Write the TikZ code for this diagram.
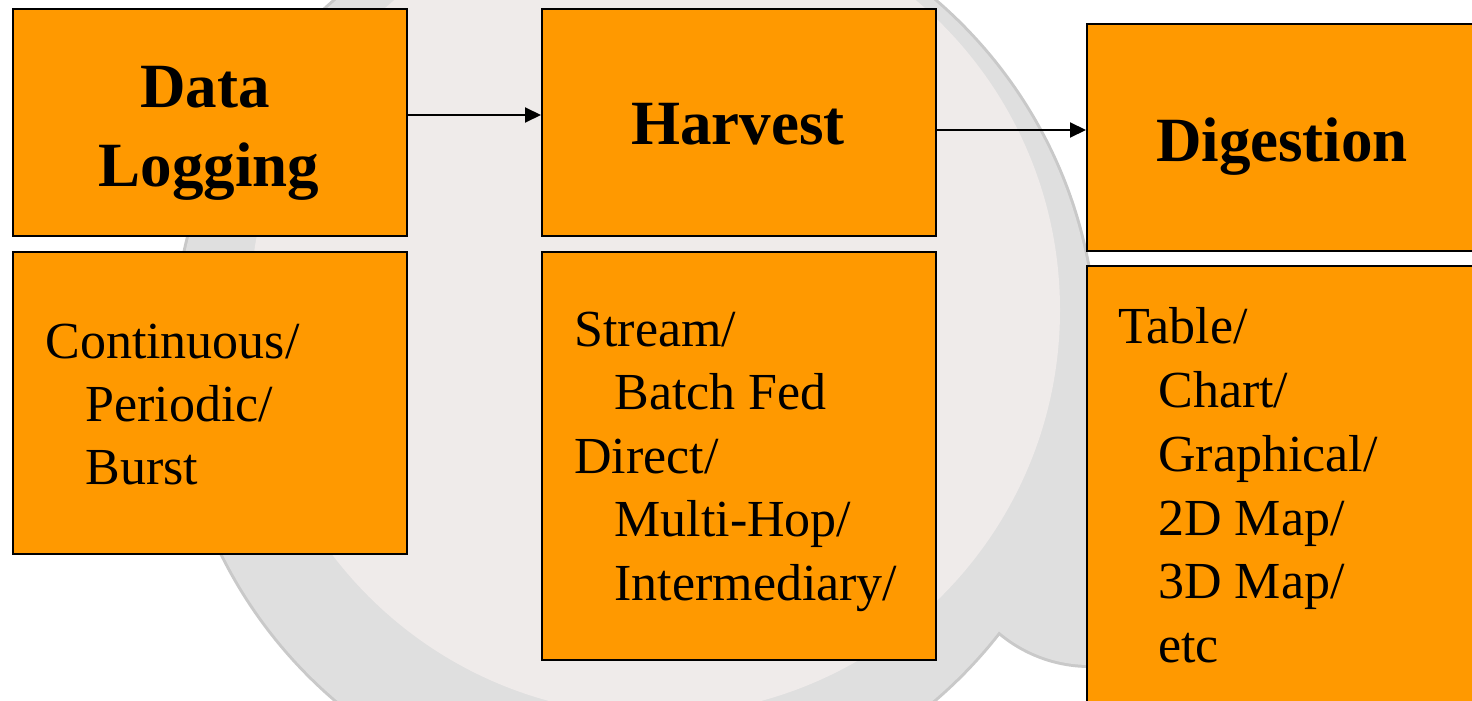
\documentclass[tikz,border=0pt]{standalone}
\usepackage{fontspec}
\setmainfont{Liberation Serif}
\usetikzlibrary{arrows.meta}
\definecolor{boxorange}{HTML}{FF9900}
\definecolor{ringgray}{HTML}{DFDFDF}
\definecolor{rimgray}{HTML}{C9C9C9}
\definecolor{innergray}{HTML}{EFEBEA}

\begin{document}
\begin{tikzpicture}[x=0.5pt,y=-0.5pt,
  box/.style={draw=black, line width=1pt, fill=boxorange, inner sep=0pt, anchor=north west},
  title/.style={font=\fontsize{31.5}{39}\selectfont\bfseries, inner sep=0pt, anchor=base},
  item/.style={font=\fontsize{26}{32}\selectfont, inner sep=0pt, anchor=base west},
  flow/.style={line width=1pt, -{Triangle[length=8pt,width=7.5pt]}}]
\useasboundingbox (0,0) rectangle (1472,701);

% faint logo in the background: a large disk with a small lobe, lighter core
\fill[rimgray] (635,350) circle[radius=231.5pt];
\fill[rimgray] (1090,525) circle[radius=71.5pt];
\fill[ringgray] (635,350) circle[radius=230pt];
\fill[ringgray] (1090,525) circle[radius=70pt];
\fill[innergray] (655,310) circle[radius=202.5pt];

% boxes
\node[box, minimum width=197pt, minimum height=113.5pt] (dl) at (12,8) {};
\node[box, minimum width=197pt, minimum height=113.5pt] (hv) at (541,8) {};
\node[box, minimum width=197pt, minimum height=113.5pt] (dg) at (1086,23) {};
\node[box, minimum width=197pt, minimum height=151pt] (dlx) at (12,251) {};
\node[box, minimum width=197pt, minimum height=204pt] (hvx) at (541,251) {};
\node[box, minimum width=197pt, minimum height=222.5pt] (dgx) at (1086,265) {};

% flow between stages
\draw[flow] ([yshift=3.75pt]dl.east) -- ([yshift=3.75pt]hv.west);
\draw[flow] ([yshift=-3.75pt]hv.east) -- ([yshift=3.75pt]dg.west);

% stage titles
\node[title] (t1) at (205,108) {Data};
\node[title] (t2) at (209,186) {Logging};
\node[title] (t3) at (738,145) {Harvest};
\node[title] (t4) at (1282,162) {Digestion};

% stage details
\node[item] (a1) at (45,358) {Continuous/};
\node[item] (a2) at (85,421) {Periodic/};
\node[item] (a3) at (85,484) {Burst};

\node[item] (b1) at (574,346) {Stream/};
\node[item] (b2) at (614,409) {Batch Fed};
\node[item] (b3) at (574,473) {Direct/};
\node[item] (b4) at (614,536) {Multi-Hop/};
\node[item] (b5) at (614,600) {Intermediary/};

\node[item] (c1) at (1118,343) {Table/};
\node[item] (c2) at (1158,407) {Chart/};
\node[item] (c3) at (1158,471) {Graphical/};
\node[item] (c4) at (1158,535) {2D Map/};
\node[item] (c5) at (1158,598) {3D Map/};
\node[item] (c6) at (1158,662) {etc};
\end{tikzpicture}
\end{document}
